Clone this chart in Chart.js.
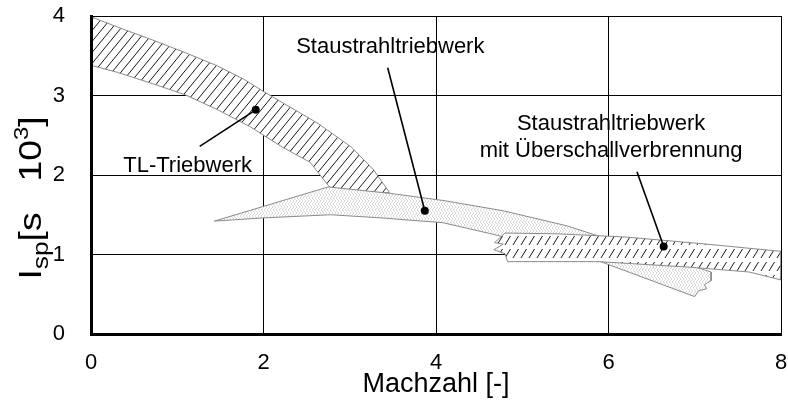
<!DOCTYPE html>
<html>
<head>
<meta charset="utf-8">
<script src="https://cdn.jsdelivr.net/npm/chart.js@4"></script>
<style>
  body { margin: 0; background: #fff; }
  #chart { display: block; }
</style>
</head>
<body>
<canvas id="chart" width="788" height="405"></canvas>
<script>
const FONT = "'Liberation Sans', Arial, sans-serif";

// TL-Triebwerk band, upper and lower edge
const tlUpperMach = [0, 0.31, 0.71, 1.09, 1.47, 1.78, 2.0, 2.22, 2.63, 3.02, 3.28, 3.46];
const tlUpperIsp  = [3.99, 3.86, 3.70, 3.54, 3.37, 3.20, 3.05, 2.91, 2.65, 2.35, 2.06, 1.78];
const tlLowerMach = [0, 0.31, 0.71, 1.09, 1.47, 1.84, 2.22, 2.54, 2.75, 2.84];
const tlLowerIsp  = [3.38, 3.29, 3.15, 3.01, 2.82, 2.61, 2.35, 2.16, 1.87, 1.78];

// Staustrahltriebwerk band (upper edge runs into the ragged right end)
const stauUpperMach = [1.43, 2.75, 3.46, 4.08, 4.78, 5.52, 5.89, 7.19, 7.19, 7.11, 7.14, 7.04, 7.0];
const stauUpperIsp  = [1.42, 1.85, 1.77, 1.68, 1.55, 1.36, 1.23, 0.78, 0.67, 0.62, 0.57, 0.54, 0.47];
const stauLowerMach = [1.99, 2.78, 3.37, 4.08, 4.6, 5.24, 5.86];
const stauLowerIsp  = [1.46, 1.50, 1.46, 1.40, 1.27, 1.10, 0.93];

// Staustrahltriebwerk mit Ueberschallverbrennung (ragged left end first)
const scramUpperMach = [4.83, 4.8, 4.67, 4.78, 4.68, 4.8, 5.41, 6.2, 7.04, 8.0];
const scramUpperIsp  = [0.91, 1.01, 1.06, 1.13, 1.15, 1.27, 1.26, 1.22, 1.14, 1.04];
const scramLowerMach = [4.83, 5.89, 6.95, 7.63, 8.0];
const scramLowerIsp  = [0.91, 0.91, 0.84, 0.78, 0.68];

// pointer lines: dot inside the band, then end near the label
const pointerMach = [[1.91, 1.26], [3.87, 3.44], [6.64, 6.33]];
const pointerIsp  = [[2.82, 2.36], [1.55, 3.35], [1.10, 2.04]];

const labelText = ['TL-Triebwerk', 'Staustrahltriebwerk', 'Staustrahltriebwerk', 'mit Überschallverbrennung'];
const labelMach = [1.12, 3.47, 6.03, 6.03];
const labelIsp  = [2.11, 3.61, 2.64, 2.30];

const xTicks = [0, 2, 4, 6, 8];
const yTicks = [0, 1, 2, 3, 4];

function band(upX, upY, loX, loY) {
  const pts = upX.map((x, i) => ({ x, y: upY[i] }));
  for (let i = loX.length - 1; i >= 0; i--) pts.push({ x: loX[i], y: loY[i] });
  pts.push(pts[0]);
  return pts;
}

function tile(w, h, draw) {
  const c = document.createElement('canvas');
  c.width = w; c.height = h;
  const g = c.getContext('2d');
  g.fillStyle = '#fff';
  g.fillRect(0, 0, w, h);
  draw(g, w, h);
  return g.createPattern(c, 'repeat');
}

// solid diagonal hatch
const tlFill = tile(9, 11, (g, w, h) => {
  g.strokeStyle = '#1a1a1a';
  g.lineWidth = 1;
  for (const o of [-w, 0, w]) {
    g.beginPath(); g.moveTo(o, h); g.lineTo(o + w, 0); g.stroke();
  }
});

// dashed steep hatch
const scramFill = tile(8, 13, (g) => {
  g.strokeStyle = '#1a1a1a';
  g.lineWidth = 1;
  g.beginPath(); g.moveTo(1, 11); g.lineTo(6.5, 2); g.stroke();
});

// light herringbone texture
const stauFill = tile(6, 6, (g) => {
  g.strokeStyle = '#cdcdcd';
  g.lineWidth = 0.8;
  g.beginPath();
  g.moveTo(0, 0); g.lineTo(3, 3); g.lineTo(0, 6);
  g.moveTo(3, 0); g.lineTo(6, 3); g.lineTo(3, 6);
  g.stroke();
});

const pointerSets = pointerMach.map((xs, i) => ({
  data: xs.map((x, j) => ({ x, y: pointerIsp[i][j] })),
  borderColor: '#000',
  borderWidth: 1.6,
  pointRadius: [4, 0],
  pointBackgroundColor: '#000',
  pointBorderWidth: 0,
  fill: false
}));

function bandSet(pts, pattern) {
  return {
    data: pts,
    borderColor: '#8a8a8a',
    borderWidth: 1,
    backgroundColor: pattern,
    pointRadius: 0,
    fill: 'shape'
  };
}

const labels = {
  id: 'labels',
  afterDatasetsDraw(chart) {
    const { ctx, scales: { x, y } } = chart;
    ctx.save();
    ctx.font = '22px ' + FONT;
    ctx.fillStyle = '#000';
    ctx.textAlign = 'center';
    ctx.textBaseline = 'middle';
    labelText.forEach((t, i) => {
      ctx.fillText(t, x.getPixelForValue(labelMach[i]), y.getPixelForValue(labelIsp[i]));
    });
    ctx.restore();
  }
};

// y axis title with sub- and superscript, drawn a bit stretched along its length
const yTitle = {
  id: 'yTitle',
  afterDraw(chart) {
    const ctx = chart.ctx;
    const parts = [
      { t: 'I', size: 31, dy: 0 },
      { t: 'sp', size: 22, dy: 7 },
      { t: '[s   10', size: 31, dy: 0 },
      { t: '3', size: 20, dy: -13 },
      { t: ']', size: 31, dy: 0 }
    ];
    const stretch = 1.2;
    ctx.save();
    let total = 0;
    parts.forEach(p => { ctx.font = p.size + 'px ' + FONT; p.w = ctx.measureText(p.t).width; total += p.w; });
    ctx.translate(41, 198);
    ctx.rotate(-Math.PI / 2);
    ctx.scale(stretch, 1);
    ctx.fillStyle = '#000';
    ctx.textBaseline = 'alphabetic';
    let pos = -total / 2;
    parts.forEach(p => {
      ctx.font = p.size + 'px ' + FONT;
      ctx.fillText(p.t, pos, p.dy);
      pos += p.w;
    });
    ctx.restore();
  }
};

new Chart(document.getElementById('chart'), {
  type: 'line',
  data: {
    datasets: [
      ...pointerSets,
      bandSet(band(scramUpperMach, scramUpperIsp, scramLowerMach, scramLowerIsp), scramFill),
      bandSet(band(stauUpperMach, stauUpperIsp, stauLowerMach, stauLowerIsp), stauFill),
      bandSet(band(tlUpperMach, tlUpperIsp, tlLowerMach, tlLowerIsp), tlFill)
    ]
  },
  options: {
    responsive: false,
    animation: false,
    devicePixelRatio: 1,
    layout: { padding: { top: 16, right: 7, left: 0, bottom: 0 } },
    elements: { line: { tension: 0 } },
    plugins: { legend: { display: false }, tooltip: { enabled: false } },
    scales: {
      x: {
        type: 'linear', min: 0, max: 8,
        afterBuildTicks: s => { s.ticks = xTicks.map(v => ({ value: v })); },
        afterFit: s => { s.height = 71; s.paddingLeft = 0; s.paddingRight = 0; },
        grid: { color: '#000', lineWidth: 1, drawTicks: false },
        border: { color: '#000', width: 3, z: 1 },
        ticks: { color: '#000', font: { family: FONT, size: 22 }, padding: 16, maxRotation: 0 },
        title: { display: true, text: 'Machzahl [-]', color: '#000', font: { family: FONT, size: 27 }, padding: { top: 0, bottom: 4 } }
      },
      y: {
        type: 'linear', min: 0, max: 4,
        afterBuildTicks: s => { s.ticks = yTicks.map(v => ({ value: v })); },
        afterFit: s => { s.width = 91; s.paddingTop = 0; s.paddingBottom = 0; },
        grid: { color: '#000', lineWidth: 1, drawTicks: false },
        border: { color: '#000', width: 3, z: 1 },
        ticks: { color: '#000', font: { family: FONT, size: 22 }, padding: 26 }
      }
    }
  },
  plugins: [labels, yTitle]
});
</script>
</body>
</html>
